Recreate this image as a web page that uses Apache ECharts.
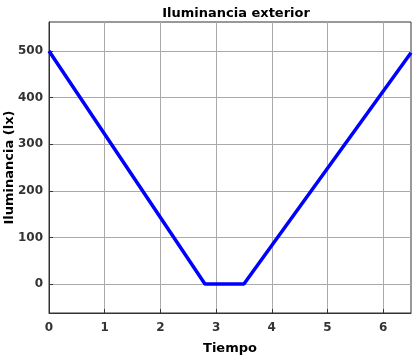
<!DOCTYPE html>
<html><head><meta charset="utf-8">
<script src="https://cdn.jsdelivr.net/npm/echarts@6/dist/echarts.min.js"></script>
<style>html,body{margin:0;padding:0;background:#fff}#c{width:416px;height:360px}</style>
</head><body><div id="c"></div>
<script>
var timeValues = [0, 2.8, 3.5, 6.5];
var illuminance = [500, 0, 0, 496];
var yTicks = [0, 100, 200, 300, 400, 500];
var xTicks = [0, 1, 2, 3, 4, 5, 6];
var titleText = 'Iluminancia exterior';
var xName = 'Tiempo';
var yName = 'Iluminancia (lx)';

var chart = echarts.init(document.getElementById('c'));
var pts = timeValues.map(function (t, i) { return [t, illuminance[i]]; });
var font = 'DejaVu Sans, sans-serif';
chart.setOption({
  animation: false,
  title: { text: titleText, left: 231, textAlign: 'center', top: 2,
    textStyle: { fontFamily: font, fontSize: 13, fontWeight: 'bold', color: '#000' } },
  grid: { left: 49, right: 5, top: 22, bottom: 47, show: true, borderColor: '#333', borderWidth: 1,
    containLabel: false, outerBoundsMode: 'none' },
  xAxis: {
    type: 'value', min: 0, max: 6.5, interval: 1,
    name: xName, nameLocation: 'middle', nameGap: 29, nameMoveOverlap: false,
    nameTextStyle: { fontFamily: font, fontSize: 13, fontWeight: 'bold', color: '#000' },
    axisLine: { show: true, onZero: false, lineStyle: { color: '#333' } },
    axisTick: { show: true, inside: true, length: 4, customValues: xTicks, lineStyle: { color: '#333' } },
    axisLabel: { fontFamily: font, fontSize: 12, fontWeight: 'bold', color: '#333', margin: 9, customValues: xTicks },
    splitLine: { show: true, lineStyle: { color: '#aaa', width: 1 } }
  },
  yAxis: {
    type: 'value', min: -62, max: 562,
    name: yName, nameLocation: 'middle', nameGap: 33, nameMoveOverlap: false,
    nameTextStyle: { fontFamily: font, fontSize: 13, fontWeight: 'bold', color: '#000' },
    axisLine: { show: true, onZero: false, lineStyle: { color: '#333' } },
    axisTick: { show: true, inside: true, length: 4, customValues: yTicks, lineStyle: { color: '#333' } },
    axisLabel: { fontFamily: font, fontSize: 12, fontWeight: 'bold', color: '#333', margin: 6, customValues: yTicks },
    splitLine: { show: true, lineStyle: { color: '#aaa', width: 1 } }
  },
  series: [{
    type: 'line', data: pts, showSymbol: false, symbol: 'none',
    lineStyle: { color: '#0000ff', width: 3.5 }, clip: true
  }]
});
</script></body></html>
